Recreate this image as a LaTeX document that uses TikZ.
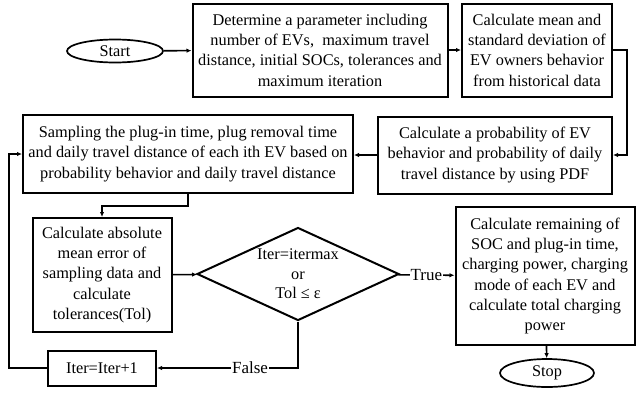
\documentclass[tikz,border=0pt]{standalone}
\usepackage{fontspec}
\setmainfont{Liberation Serif}
\usepackage{tikz}
\usetikzlibrary{shapes,arrows,arrows.meta,positioning,calc,shapes.geometric}

\begin{document}
\begin{tikzpicture}[x=1pt, y=-1pt,
  proc/.style={rectangle, draw, line width=2pt, align=center, inner sep=1pt,
    font=\fontsize{16.3}{20.3}\selectfont},
  term/.style={ellipse, draw, line width=1.7pt, inner sep=0pt,
    font=\fontsize{16.3}{20.3}\selectfont},
  cond/.style={diamond, draw, line width=2pt, align=center, inner sep=-5pt,
    shape aspect=2.17, minimum width=202pt, minimum height=93pt,
    font=\fontsize{16.3}{19.5}\selectfont},
  link/.style={line width=1.6pt, -{Latex[length=5pt,width=4.5pt]}},
  lbl/.style={fill=white, inner sep=1pt, font=\fontsize{17}{20}\selectfont}
]
  \useasboundingbox (0,0) rectangle (636,397);

  % Top row
  \node[term, minimum width=96pt, minimum height=23pt] (start) at (115,51) {Start};
  \node[proc, minimum width=255pt, minimum height=93pt] (det) at (320,50)
    {Determine a parameter including\\number of EVs,\ \ maximum travel\\distance, initial SOCs, tolerances and\\maximum iteration};
  \node[proc, minimum width=150pt, minimum height=93pt] (mean) at (537,50)
    {Calculate mean and\\standard deviation of\\EV owners behavior\\from historical data};

  % Second row
  \node[proc, minimum width=234pt, minimum height=77pt] (prob) at (495,155)
    {Calculate a probability of EV\\behavior and probability of daily\\travel distance by using PDF};
  \node[proc, minimum width=330pt, minimum height=78pt] (samp) at (188,154)
    {Sampling the plug-in time, plug removal time\\and daily travel distance of each ith EV based on\\probability behavior and daily travel distance};

  % Iteration loop
  \node[proc, minimum width=139pt, minimum height=114pt] (abs) at (102,275)
    {Calculate absolute\\mean error of\\sampling data and\\calculate\\tolerances(Tol)};
  \node[cond] (chk) at (298,274) {Iter=itermax\\or\\Tol ≤ ε};
  \node[proc, minimum width=108pt, minimum height=35pt] (iter) at (102,368) {Iter=Iter+1};
  \node[proc, minimum width=179pt, minimum height=138pt] (rem) at (545,276)
    {Calculate remaining of\\SOC and plug-in time,\\charging power, charging\\mode of each EV and\\calculate total charging\\power};
  \node[term, minimum width=94pt, minimum height=28pt] (stop) at (547,373) {Stop};

  % Connections
  \draw[link] (start) -- (det);
  \draw[link] (det) -- (mean);
  \draw[link] (mean.east) -- ++(14,0) |- (prob.east);
  \draw[link] (prob.west) -- (samp.east |- prob.west);
  \draw[link] (samp.south) -- ++(0,12) -| (abs.north);
  \draw[link] (abs) -- (chk);
  \draw[link] (chk) -- node[lbl] {True} (rem);
  \draw[link] (chk.south) |- node[lbl, pos=0.67] {False} (iter.east);
  \draw[link] (iter.west) -- ++(-38,0) |- (samp.west);
  \draw[link] (rem) -- (stop);
\end{tikzpicture}
\end{document}
